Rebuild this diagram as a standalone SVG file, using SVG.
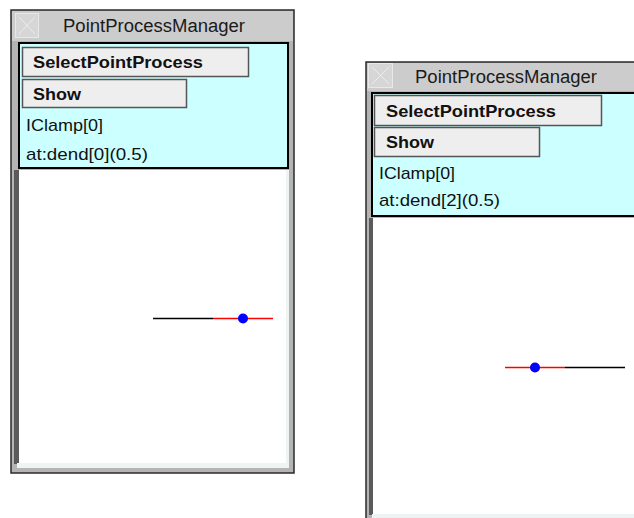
<svg xmlns="http://www.w3.org/2000/svg" width="634" height="518" viewBox="0 0 634 518">
  <style>
    .frame { fill: #b4b4b4; stroke: #2a2a2a; stroke-width: 1.5; }
    .titlebar { fill: #cccccc; }
    .closebox { fill: #d6d6d6; stroke: #e8e8e8; stroke-width: 1; }
    .closex { stroke: #ececec; stroke-width: 1; }
    .title { font-family: "Liberation Sans", Arial, sans-serif; font-size: 18px; fill: #1a1a1a; }
    .panel { fill: #ccffff; stroke: #000; stroke-width: 2; }
    .btn { fill: #eeeeee; stroke: #555; stroke-width: 1.5; }
    .btntext { font-family: "Liberation Sans", Arial, sans-serif; font-size: 17px; font-weight: bold; fill: #111; }
    .label { font-family: "Liberation Sans", Arial, sans-serif; font-size: 17px; fill: #111; }
    .canvas { fill: #ffffff; }
    .bevel-dark { fill: #5a5a5a; }
    .bevel-light { fill: #eef4f4; }
    .seg-black { stroke: #000; stroke-width: 1.5; }
    .seg-red { stroke: #ff0000; stroke-width: 1.5; }
    .marker { fill: #0000ff; }
  </style>

  <!-- Left manager window -->
  <g id="manager-left">
    <rect class="frame" x="11" y="10" width="283" height="463"/>
    <rect class="titlebar" x="12" y="11" width="281" height="30"/>
    <rect class="closebox" x="15.5" y="13.5" width="23" height="24"/>
    <line class="closex" x1="19" y1="17" x2="35" y2="34"/>
    <line class="closex" x1="35" y1="17" x2="19" y2="34"/>
    <text class="title" x="63" y="32" textLength="182" lengthAdjust="spacingAndGlyphs">PointProcessManager</text>

    <rect class="panel" x="19" y="43" width="269" height="125"/>
    <rect class="btn" x="22.5" y="47.5" width="226" height="29"/>
    <text class="btntext" x="33" y="68" textLength="170" lengthAdjust="spacingAndGlyphs">SelectPointProcess</text>
    <rect class="btn" x="22.5" y="79.5" width="164" height="28"/>
    <text class="btntext" x="33" y="100" textLength="48" lengthAdjust="spacingAndGlyphs">Show</text>
    <text class="label" x="26" y="131" textLength="77" lengthAdjust="spacingAndGlyphs">IClamp[0]</text>
    <text class="label" x="26" y="160" textLength="122" lengthAdjust="spacingAndGlyphs">at:dend[0](0.5)</text>

    <rect class="bevel-dark" x="14" y="170" width="5" height="294"/>
    <rect class="canvas" x="19" y="170" width="267" height="293"/>
    <rect class="bevel-light" x="17" y="463" width="272" height="5"/>
    <rect class="bevel-light" x="286" y="170" width="3" height="296"/>
  </g>

  <!-- Right manager window -->
  <g id="manager-right">
    <rect class="frame" x="366" y="62" width="280" height="470"/>
    <rect class="titlebar" x="367" y="63" width="268" height="28"/>
    <rect class="closebox" x="368.5" y="63.5" width="24" height="24"/>
    <line class="closex" x1="372" y1="67" x2="389" y2="84"/>
    <line class="closex" x1="389" y1="67" x2="372" y2="84"/>
    <text class="title" x="415" y="83" textLength="182" lengthAdjust="spacingAndGlyphs">PointProcessManager</text>

    <rect class="panel" x="372" y="93" width="270" height="123"/>
    <rect class="btn" x="374.5" y="95.5" width="227" height="30"/>
    <text class="btntext" x="386" y="117" textLength="170" lengthAdjust="spacingAndGlyphs">SelectPointProcess</text>
    <rect class="btn" x="374.5" y="127.5" width="165" height="29"/>
    <text class="btntext" x="386" y="148" textLength="48" lengthAdjust="spacingAndGlyphs">Show</text>
    <text class="label" x="379" y="179" textLength="76" lengthAdjust="spacingAndGlyphs">IClamp[0]</text>
    <text class="label" x="379" y="206" textLength="121" lengthAdjust="spacingAndGlyphs">at:dend[2](0.5)</text>

    <rect class="bevel-dark" x="369" y="218" width="4" height="297"/>
    <rect class="canvas" x="373" y="218" width="261" height="296"/>
    <rect class="bevel-light" x="372" y="514" width="262" height="4"/>
  </g>

  <!-- Section shape plots -->
  <g id="connectors">
    <line class="seg-black" x1="153" y1="318.5" x2="213" y2="318.5"/>
    <line class="seg-red" x1="213" y1="318.5" x2="273" y2="318.5"/>
    <line class="seg-red" x1="505" y1="367.5" x2="565" y2="367.5"/>
    <line class="seg-black" x1="565" y1="367.5" x2="625" y2="367.5"/>
  </g>
  <g id="point-left"><circle class="marker" cx="243" cy="318.5" r="5"/></g>
  <g id="point-right"><circle class="marker" cx="535" cy="367.5" r="5"/></g>
</svg>
